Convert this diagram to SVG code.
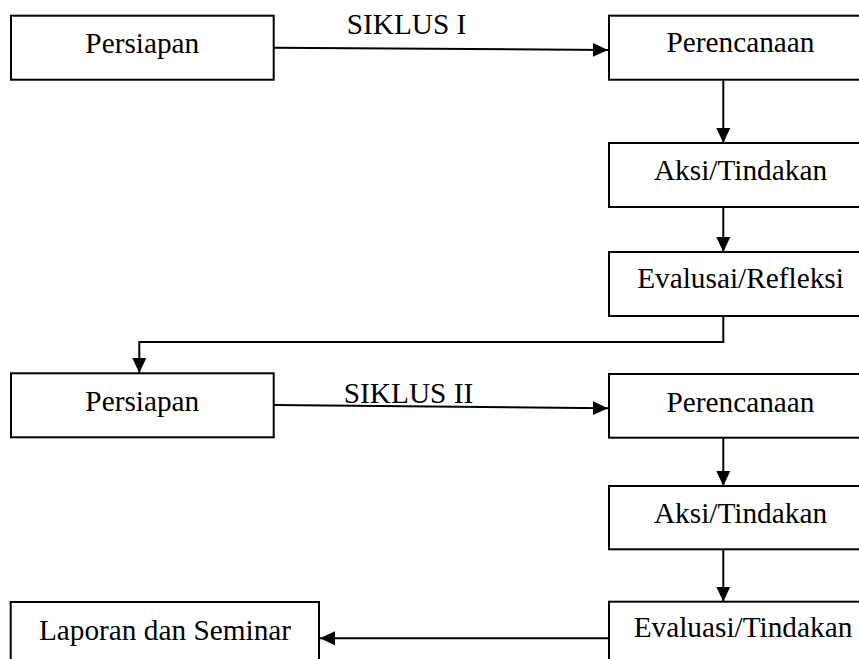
<svg xmlns="http://www.w3.org/2000/svg" width="859" height="659" viewBox="0 0 859 659">
<style>
.box{fill:#fff;stroke:#000;stroke-width:2}
.lbl{font-family:"Liberation Serif","Times New Roman",serif;font-size:29.3px;fill:#000;text-anchor:middle}
.edge{fill:none;stroke:#000;stroke-width:2}
</style>
<defs>
<marker id="ah" markerUnits="userSpaceOnUse" markerWidth="16" markerHeight="15" refX="15" refY="7" orient="auto" viewBox="0 0 16 14">
<path d="M0,0 L15,7 L0,14 Z" fill="#000"/>
</marker>
</defs>
<rect width="859" height="659" fill="#fff"/>
<g id="connectors">
<path class="edge" d="M274,47.7 L608,50" marker-end="url(#ah)"/>
<path class="edge" d="M723.3,80 L723.3,143" marker-end="url(#ah)"/>
<path class="edge" d="M723.3,207 L723.3,252" marker-end="url(#ah)"/>
<path class="edge" d="M723.3,316 L723.3,342 L139.3,342 L139.3,373" marker-end="url(#ah)"/>
<path class="edge" d="M274,405 L608,408.3" marker-end="url(#ah)"/>
<path class="edge" d="M723.3,438 L723.3,486" marker-end="url(#ah)"/>
<path class="edge" d="M723.3,549.3 L723.3,601.7" marker-end="url(#ah)"/>
<path class="edge" d="M609,638.3 L320,638.3" marker-end="url(#ah)"/>
<text class="lbl" x="406.5" y="34">SIKLUS I</text>
<text class="lbl" x="408.5" y="403.3">SIKLUS II</text>
</g>
<g id="persiapan1">
<rect class="box" x="11" y="15.7" width="262.7" height="64"/>
<text class="lbl" x="142.3" y="53">Persiapan</text>
</g>
<g id="perencanaan1">
<rect class="box" x="609" y="15.7" width="262" height="64"/>
<text class="lbl" x="740.5" y="52">Perencanaan</text>
</g>
<g id="aksi1">
<rect class="box" x="609" y="143" width="262" height="64"/>
<text class="lbl" x="740.5" y="180">Aksi/Tindakan</text>
</g>
<g id="evaluasi1">
<rect class="box" x="609" y="252" width="262" height="64"/>
<text class="lbl" x="740.5" y="288">Evalusai/Refleksi</text>
</g>
<g id="persiapan2">
<rect class="box" x="11" y="373.3" width="262.7" height="64"/>
<text class="lbl" x="142.3" y="411">Persiapan</text>
</g>
<g id="perencanaan2">
<rect class="box" x="609" y="374" width="262" height="63.7"/>
<text class="lbl" x="740.5" y="411.7">Perencanaan</text>
</g>
<g id="aksi2">
<rect class="box" x="609" y="486" width="262" height="63.3"/>
<text class="lbl" x="740.5" y="522.7">Aksi/Tindakan</text>
</g>
<g id="evaluasi2">
<rect class="box" x="609" y="601.7" width="262" height="64"/>
<text class="lbl" x="743" y="636.7">Evaluasi/Tindakan</text>
</g>
<g id="laporan">
<rect class="box" x="10.7" y="602" width="308.3" height="64"/>
<text class="lbl" x="165" y="640">Laporan dan Seminar</text>
</g>
</svg>
